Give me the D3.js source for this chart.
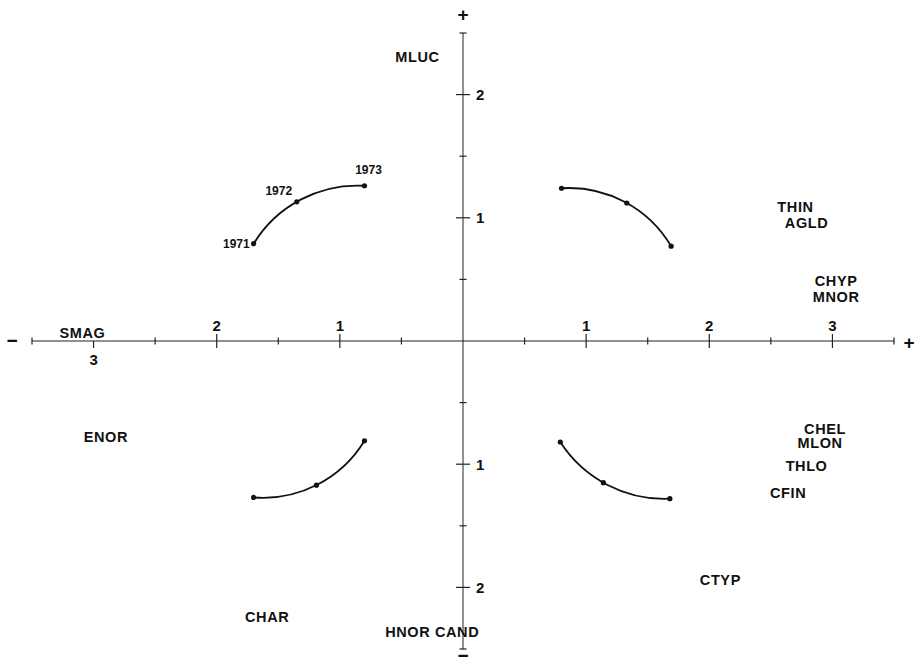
<!DOCTYPE html>
<html>
<head>
<meta charset="utf-8">
<script src="https://cdn.jsdelivr.net/npm/d3@7"></script>
<style>
  body { margin: 0; background: #fff; }
  svg text { font-family: "Liberation Sans", Arial, sans-serif; fill: #111; }
</style>
</head>
<body>
<svg id="chart" width="918" height="665"></svg>
<script>
// tick values on both axes (halves are minor ticks)
var xTicks = [-3.5, -3, -2.5, -2, -1.5, -1, -0.5, 0.5, 1, 1.5, 2, 2.5, 3, 3.5];
var yTicks = [-2.5, -2, -1.5, -1, -0.5, 0.5, 1, 1.5, 2, 2.5];
var xTickLabels = [-3, -2, -1, 1, 2, 3];
var yTickLabels = [-2, -1, 1, 2];

// species labels
var names = ["MLUC", "THIN", "AGLD", "CHYP", "MNOR", "SMAG", "ENOR", "CHEL", "MLON", "THLO", "CFIN", "CTYP", "CHAR", "HNOR CAND"];
var nameX = [-0.37, 2.70, 2.79, 3.03, 3.03, -3.09, -2.90, 2.94, 2.90, 2.79, 2.64, 2.09, -1.59, -0.25];
var nameY = [2.31, 1.09, 0.96, 0.49, 0.36, 0.065, -0.78, -0.71, -0.83, -1.01, -1.23, -1.94, -2.24, -2.36];

// year trajectories, one per quadrant (1971, 1972, 1973)
var years = ["1971", "1972", "1973"];
var trackUL = [[-1.70, 0.79], [-1.35, 1.13], [-0.80, 1.26]];
var trackUR = [[0.80, 1.24], [1.33, 1.12], [1.69, 0.77]];
var trackLL = [[-1.70, -1.27], [-1.19, -1.17], [-0.80, -0.81]];
var trackLR = [[0.79, -0.82], [1.14, -1.15], [1.68, -1.28]];

var svg = d3.select("#chart");

var x = d3.scaleLinear().domain([-3.5, 3.5]).range([32, 894]);
var y = d3.scaleLinear().domain([-2.5, 2.5]).range([649, 33]);

var x0 = x(0), y0 = y(0);

//axes lines
svg.append("line")
    .attr("x1", x(-3.5)).attr("x2", x(3.5))
    .attr("y1", y0).attr("y2", y0)
    .attr("stroke", "#222").attr("stroke-width", 1);
svg.append("line")
    .attr("x1", x0).attr("x2", x0)
    .attr("y1", y(2.5)).attr("y2", y(-2.5))
    .attr("stroke", "#222").attr("stroke-width", 1);

function tickLen(v) {
    return Number.isInteger(v) ? 7 : 3.5;
}

svg.selectAll(".xtick")
    .data(xTicks)
    .enter().append("line")
    .attr("class", "xtick")
    .attr("x1", function (d) { return x(d); })
    .attr("x2", function (d) { return x(d); })
    .attr("y1", function (d) { return d === -3 ? y0 : y0 - tickLen(d); })
    .attr("y2", function (d) { return y0 + tickLen(d); })
    .attr("stroke", "#222").attr("stroke-width", 1.2);

svg.selectAll(".ytick")
    .data(yTicks)
    .enter().append("line")
    .attr("class", "ytick")
    .attr("y1", function (d) { return y(d); })
    .attr("y2", function (d) { return y(d); })
    .attr("x1", function (d) { return x0 - tickLen(d); })
    .attr("x2", function (d) { return x0 + tickLen(d); })
    .attr("stroke", "#222").attr("stroke-width", 1.2);

// tick labels: absolute values, x labels above axis (except -3 below)
svg.selectAll(".xlab")
    .data(xTickLabels)
    .enter().append("text")
    .attr("class", "xlab")
    .attr("x", function (d) { return x(d); })
    .attr("y", function (d) { return d === -3 ? y0 + 24 : y0 - 10; })
    .attr("text-anchor", "middle")
    .style("font-size", "15px")
    .style("font-weight", "bold")
    .text(function (d) { return Math.abs(d); });

svg.selectAll(".ylab")
    .data(yTickLabels)
    .enter().append("text")
    .attr("class", "ylab")
    .attr("x", x0 + 13)
    .attr("y", function (d) { return y(d); })
    .attr("dy", "0.36em")
    .style("font-size", "15px")
    .style("font-weight", "bold")
    .text(function (d) { return Math.abs(d); });

// + / - signs at axis ends
var signs = [
    { s: "+", px: x0, py: 14 },
    { s: "\u2212", px: x0, py: 655 },
    { s: "\u2212", px: 12, py: y0 - 1 },
    { s: "+", px: 909, py: y0 + 1 }
];
svg.selectAll(".sign")
    .data(signs)
    .enter().append("text")
    .attr("x", function (d) { return d.px; })
    .attr("y", function (d) { return d.py; })
    .attr("dy", "0.36em")
    .attr("text-anchor", "middle")
    .style("font-size", "19px")
    .style("font-weight", "bold")
    .text(function (d) { return d.s; });

// species names
svg.selectAll(".name")
    .data(names)
    .enter().append("text")
    .attr("class", "name")
    .attr("x", function (d, i) { return x(nameX[i]); })
    .attr("y", function (d, i) { return y(nameY[i]); })
    .attr("dy", "0.36em")
    .attr("text-anchor", "middle")
    .style("font-size", "14.5px")
    .style("font-weight", "bold")
    .style("letter-spacing", "0.6px")
    .text(function (d) { return d; });

// year tracks drawn as a circular arc through the three (scaled) points
function arcPath(track) {
    var p = track.map(function (d) { return [x(d[0]), y(d[1])]; });
    var ax = p[0][0], ay = p[0][1], bx = p[1][0], by = p[1][1], cx = p[2][0], cy = p[2][1];
    var den = 2 * (ax * (by - cy) + bx * (cy - ay) + cx * (ay - by));
    var ux = ((ax * ax + ay * ay) * (by - cy) + (bx * bx + by * by) * (cy - ay) + (cx * cx + cy * cy) * (ay - by)) / den;
    var uy = ((ax * ax + ay * ay) * (cx - bx) + (bx * bx + by * by) * (ax - cx) + (cx * cx + cy * cy) * (bx - ax)) / den;
    var r = Math.hypot(ax - ux, ay - uy);
    var a0 = Math.atan2(ay - uy, ax - ux);
    var a2 = Math.atan2(cy - uy, cx - ux);
    // direction: cross product sign of (b-a) x (c-b)
    var cross = (bx - ax) * (cy - by) - (by - ay) * (cx - bx);
    var path = d3.path();
    path.moveTo(ax, ay);
    path.arc(ux, uy, r, a0, a2, cross < 0);
    return path.toString();
}

[trackUL, trackUR, trackLL, trackLR].forEach(function (track) {
    svg.append("path")
        .attr("d", arcPath(track))
        .attr("fill", "none")
        .attr("stroke", "#111")
        .attr("stroke-width", 1.8);
    svg.selectAll(null)
        .data(track)
        .enter().append("circle")
        .attr("cx", function (d) { return x(d[0]); })
        .attr("cy", function (d) { return y(d[1]); })
        .attr("r", 2.6)
        .attr("fill", "#111");
});

// year labels on the upper-left track
var yearOffsets = [[-4, 4], [-18, -7], [4, -12]];
svg.selectAll(".year")
    .data(years)
    .enter().append("text")
    .attr("class", "year")
    .attr("x", function (d, i) { return x(trackUL[i][0]) + yearOffsets[i][0]; })
    .attr("y", function (d, i) { return y(trackUL[i][1]) + yearOffsets[i][1]; })
    .attr("text-anchor", function (d, i) { return i === 0 ? "end" : "middle"; })
    .style("font-size", "12px")
    .style("font-weight", "bold")
    .text(function (d) { return d; });
</script>
</body>
</html>
